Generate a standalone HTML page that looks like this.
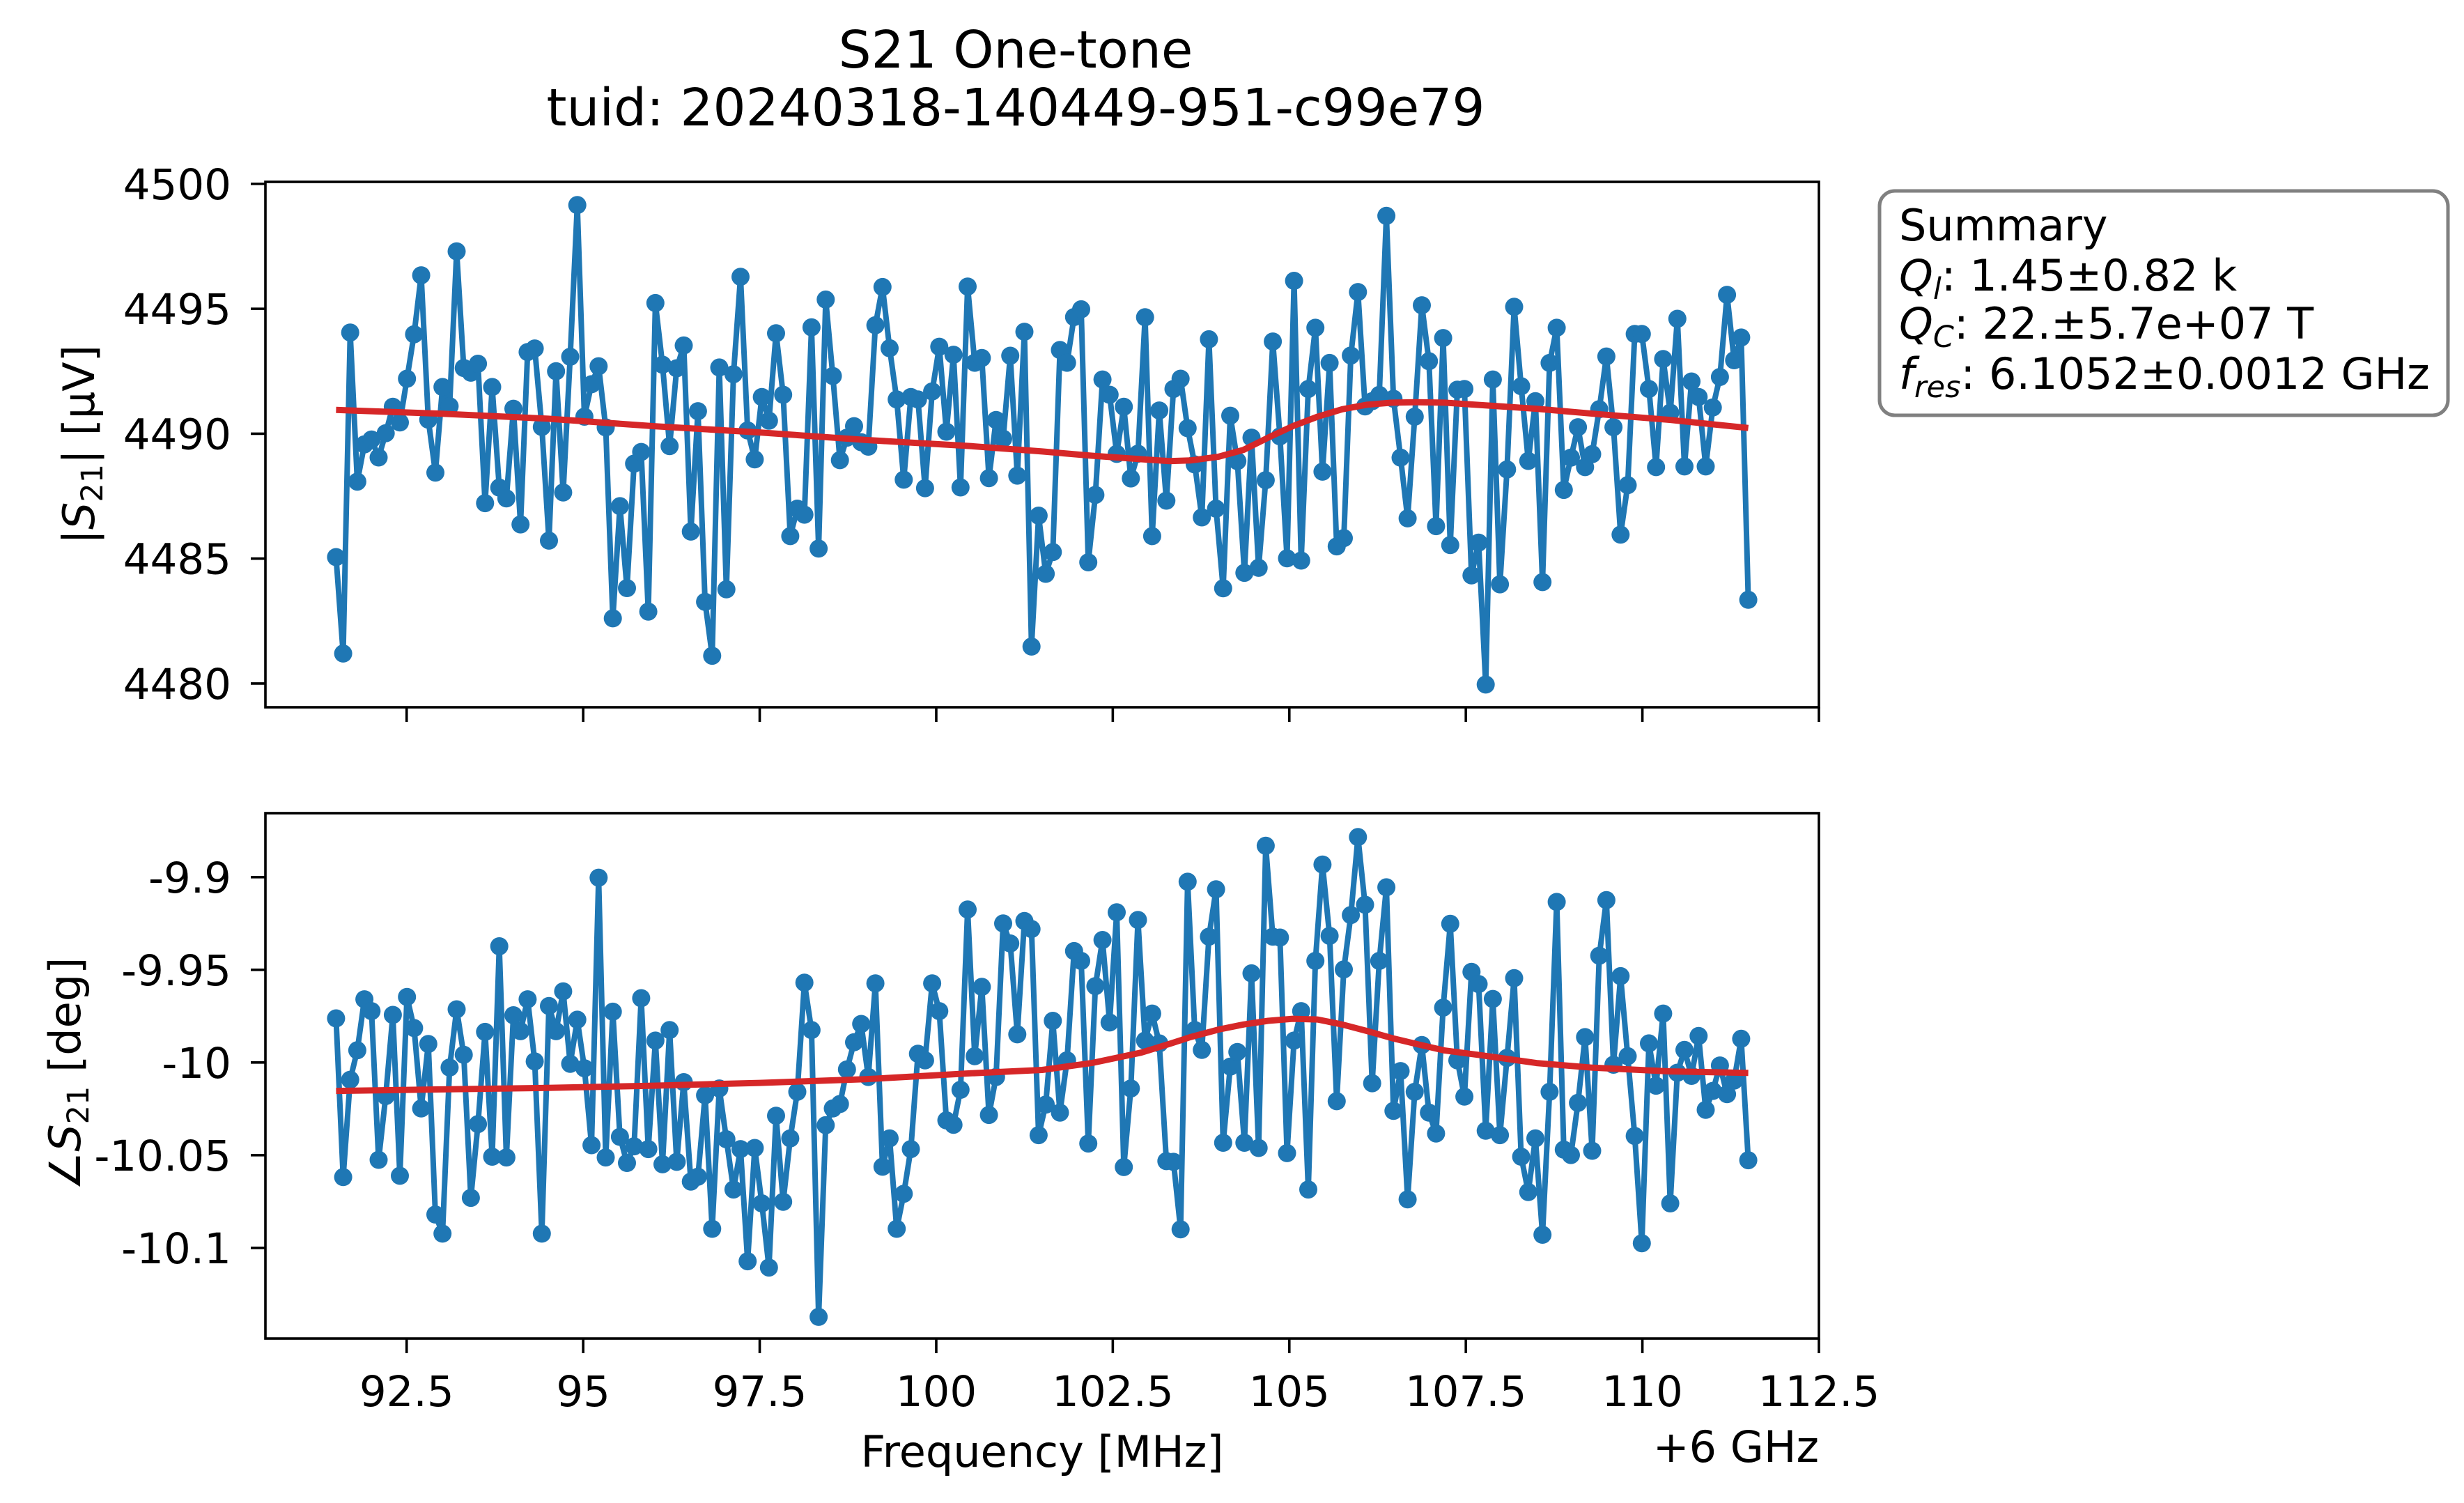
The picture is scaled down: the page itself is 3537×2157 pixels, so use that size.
<!DOCTYPE html>
<html><head><meta charset="utf-8"><style>
html,body{margin:0;padding:0;background:#fff;}
svg{display:block;}
text{font-family:"DejaVu Sans","Liberation Sans",sans-serif;fill:#000;}
</style></head><body>
<svg id="fig" width="3537" height="2157" viewBox="0 0 3537 2157" xmlns="http://www.w3.org/2000/svg">
<rect width="3537" height="2157" fill="#fff"/>
<text x="1458" y="97" font-size="74" text-anchor="middle">S21 One-tone</text>
<text x="1458" y="180" font-size="74" text-anchor="middle">tuid: 20240318-140449-951-c99e79</text>
<g id="top"></g>
<g id="bot"></g>
<text transform="translate(135,638) rotate(-90)" font-size="62" text-anchor="middle">|<tspan font-style="italic">S</tspan><tspan font-size="43" dy="12">21</tspan><tspan dy="-12">| [µV]</tspan></text>
<text transform="translate(115,1541) rotate(-90)" font-size="62" text-anchor="middle">∠<tspan font-style="italic">S</tspan><tspan font-size="43" dy="12">21</tspan><tspan dy="-12"> [deg]</tspan></text>
<text x="1496" y="2105" font-size="62" text-anchor="middle">Frequency [MHz]</text>
<text x="2611" y="2098" font-size="62" text-anchor="end">+6 GHz</text>
<g>
<rect x="2698" y="274" width="816" height="322" rx="22" ry="22" fill="#fff" stroke="#808080" stroke-width="5"/>
<text x="2726" y="345" font-size="62">Summary</text>
<text x="2726" y="417" font-size="62"><tspan font-style="italic">Q</tspan><tspan font-style="italic" font-size="43" dy="12">l</tspan><tspan dy="-12">: 1.45±0.82 k</tspan></text>
<text x="2726" y="486" font-size="62"><tspan font-style="italic">Q</tspan><tspan font-style="italic" font-size="43" dy="12">C</tspan><tspan dy="-12">: 22.±5.7e+07 T</tspan></text>
<text x="2726" y="558" font-size="62"><tspan font-style="italic">f</tspan><tspan font-style="italic" font-size="43" dy="12">res</tspan><tspan dy="-12">: 6.1052±0.0012 GHz</tspan></text>
</g>
</svg>
<script>
const freqStart = 91.5;
const freqStop = 111.5;
const magValues = [4485.06,4481.2,4494.05,4488.08,4489.57,4489.77,4489.05,4490.02,4491.08,4490.45,4492.2,4493.98,4496.34,4490.56,4488.44,4491.87,4491.1,4497.3,4492.63,4492.44,4492.8,4487.22,4491.87,4487.84,4487.41,4491.0,4486.37,4493.27,4493.41,4490.27,4485.72,4492.5,4487.65,4493.08,4499.15,4490.68,4491.98,4492.7,4490.25,4482.61,4487.1,4483.82,4488.8,4489.27,4482.88,4495.23,
4492.76,4489.5,4492.62,4493.53,4486.08,4490.9,4483.27,4481.11,4492.65,4483.77,4492.38,4496.28,4490.13,4488.97,4491.47,4490.52,4494.02,4491.56,4485.9,4487.0,4486.76,4494.26,4485.4,4495.37,4492.31,4488.94,4489.84,4490.3,4489.66,4489.48,4494.34,4495.87,4493.42,4491.37,4488.16,4491.47,4491.37,4487.82,4491.69,4493.48,4490.08,4493.16,4487.85,4495.89,4492.84,4493.03,4488.22,4490.55,4489.8,4493.12,4488.32,4494.08,4481.48,4486.72,4484.39,
4485.26,4493.35,4492.84,4494.67,4494.98,4484.85,4487.55,4492.17,4491.56,4489.19,4491.08,4488.21,4489.2,4494.66,4485.9,4490.93,4487.32,4491.79,4492.2,4490.22,4488.77,4486.65,4493.78,4487.0,4483.81,4490.72,4488.9,4484.43,4489.84,4484.63,4488.14,4493.69,4489.89,4485.01,4496.12,4484.92,4491.79,4494.24,4488.48,4492.83,4485.49,4485.82,4493.13,4495.67,4491.09,4491.3,4491.55,4498.72,4491.4,4489.04,4486.61,4490.68,4495.14,4492.9,4486.3,
4493.83,4485.54,4491.76,4491.79,4484.33,4485.64,4479.96,4492.17,4483.97,4488.57,4495.08,4491.9,4488.91,4491.3,4484.06,4492.83,4494.24,4487.75,4489.04,4490.26,4488.66,4489.18,4490.98,4493.09,4490.26,4485.96,4487.94,4493.99,4493.99,4491.79,4488.66,4492.99,4490.84,4494.6,4488.69,4492.09,4491.47,4488.69,4491.05,4492.27,4495.56,4492.94,4493.85,4483.35];
const phaseValues = [-9.9762,-10.0618,-10.0093,-9.9934,-9.9659,-9.9723,-10.0525,-10.0181,-9.9743,-10.0611,-9.9646,-9.9814,-10.0248,-9.99,-10.082,-10.0923,-10.0027,-9.9713,-9.9958,-10.073,-10.0332,-9.9835,-10.0508,-9.9373,-10.0512,-9.9745,-9.9831,-9.9659,-9.9994,-10.0923,-9.9695,-9.9831,-9.9616,-10.0007,-9.9769,-10.0031,-10.0446,-9.9003,-10.0512,-9.9726,-10.0401,-10.0542,-10.0452,-9.9653,-10.0467,-9.9882,
-10.0549,-9.9825,-10.0536,-10.0106,-10.0642,-10.0616,-10.0177,-10.0897,-10.014,-10.0414,-10.0685,-10.0467,-10.1072,-10.0461,-10.076,-10.1106,-10.0287,-10.0751,-10.0409,-10.0158,-9.9569,-9.9825,-10.1372,-10.0338,-10.0248,-10.0224,-10.0037,-9.9891,-9.9792,-10.0078,-9.9573,-10.0562,-10.0409,-10.0897,-10.0708,-10.0467,-9.9953,-9.9988,-9.9573,-9.9723,-10.0312,-10.0336,-10.0147,-9.9175,-9.9966,-9.9592,-10.0283,-10.0078,-9.925,-9.9358,-9.9848,-9.9237,-9.928,-10.0392,-10.0227,
-9.9775,-10.027,-9.9988,-9.9399,-9.9452,-10.0437,-9.9588,-9.9339,-9.9784,-9.919,-10.0564,-10.014,-9.9231,-9.9882,-9.9736,-9.9897,-10.0532,-10.0536,-10.09,-9.9025,-9.9825,-9.9932,-9.9321,-9.9066,-10.0433,-10.0022,-9.9943,-10.0433,-9.9519,-10.0461,-9.8831,-9.9321,-9.9326,-10.0489,-9.9882,-9.9723,-10.0685,-9.9452,-9.8932,-9.9317,-10.0209,-9.9498,-9.9205,-9.8784,-9.9149,-10.0112,-9.9452,-9.9055,-10.0261,-10.0046,-10.0738,-10.0158,-9.9906,-10.027,-10.0383,
-9.9704,-9.9252,-9.9988,-10.0184,-9.9511,-9.9577,-10.0368,-9.9657,-10.0392,-9.9975,-9.9545,-10.0508,-10.0699,-10.0409,-10.0929,-10.0158,-9.9134,-10.047,-10.0499,-10.0218,-9.9863,-10.0476,-9.9424,-9.9124,-10.0012,-9.9534,-9.9966,-10.0396,-10.0975,-9.9897,-10.0125,-9.9736,-10.076,-10.0055,-9.9932,-10.0072,-9.9857,-10.0255,-10.0153,-10.0016,-10.0171,-10.0097,-9.9872,-10.0527];
const fitFreq = [91.5,93,94.5,96,97.5,99,100.5,101.5,102.2,102.9,103.3,103.6,104.0,104.35,104.7,105.05,105.4,105.75,106.1,106.45,106.8,107.2,107.7,108.5,109.3,110.4,111.5];
const fitMag = [4490.95,4490.8,4490.6,4490.3,4490.05,4489.75,4489.5,4489.29,4489.12,4488.98,4488.9,4488.93,4489.08,4489.35,4489.84,4490.3,4490.68,4490.98,4491.16,4491.24,4491.26,4491.24,4491.15,4491.0,4490.8,4490.55,4490.23];
const fitPhase = [-10.0153,-10.0145,-10.0137,-10.0125,-10.011,-10.009,-10.0058,-10.004,-10.0003,-9.9947,-9.990,-9.9863,-9.9822,-9.9795,-9.9775,-9.9764,-9.9768,-9.9795,-9.983,-9.9868,-9.990,-9.9935,-9.996,-10.0003,-10.0028,-10.0048,-10.0056];
const xTicks = [92.5,95,97.5,100,102.5,105,107.5,110,112.5];
const xTickLabels = ["92.5","95","97.5","100","102.5","105","107.5","110","112.5"];
const magTicks = [4480,4485,4490,4495,4500];
const magTickLabels = ["4480","4485","4490","4495","4500"];
const phaseTicks = [-10.1,-10.05,-10,-9.95,-9.9];
const phaseTickLabels = ["-10.1","-10.05","-10","-9.95","-9.9"];

const NS = "http://www.w3.org/2000/svg";
const L = 381, R = 2611, XMIN = 90.5, XMAX = 112.5;
function xs(f){ return L + (f - XMIN) / (XMAX - XMIN) * (R - L); }
function mk(tag, attrs, parent){ const e = document.createElementNS(NS, tag); for (const k in attrs) e.setAttribute(k, attrs[k]); parent.appendChild(e); return e; }

function drawAxes(g, top, bottom, ymin, ymax, values, fitVals, yTicks, yLabels, showXLabels, prefix){
  const ys = v => bottom - (v - ymin) / (ymax - ymin) * (bottom - top);
  const n = values.length;
  const freqs = values.map((_, i) => freqStart + i * (freqStop - freqStart) / (n - 1));
  let d = "";
  values.forEach((v, i) => { d += (i ? "L" : "M") + xs(freqs[i]).toFixed(1) + "," + ys(v).toFixed(1); });
  const line = mk("path", {d: d, fill: "none", stroke: "#1f77b4", "stroke-width": 8, "stroke-linejoin": "round"}, g);
  
  
  const pts = mk("g", {fill: "#1f77b4"}, g);
  
  
  values.forEach((v, i) => {
    const c = mk("circle", {cx: xs(freqs[i]).toFixed(1), cy: ys(v).toFixed(1), r: 13}, pts);
    
    
  });
  let fd = "";
  fitFreq.forEach((f, i) => { fd += (i ? "L" : "M") + xs(f).toFixed(1) + "," + ys(fitVals[i]).toFixed(1); });
  const fit = mk("path", {d: fd, fill: "none", stroke: "#d62728", "stroke-width": 9, "stroke-linejoin": "round"}, g);
  
  
  const frame = mk("rect", {x: L, y: top, width: R - L, height: bottom - top, fill: "none", stroke: "#000", "stroke-width": 3.6}, g);
  
  
  yTicks.forEach((t, i) => {
    const y = ys(t);
    const tk = mk("line", {x1: L, x2: L - 21, y1: y, y2: y, stroke: "#000", "stroke-width": 3.6}, g);
    
    
    const tx = mk("text", {x: 332, y: y + 22, "font-size": 61, "text-anchor": "end"}, g);
    tx.textContent = yLabels[i];
    
    
  });
  xTicks.forEach((t, i) => {
    const x = xs(t);
    const tk = mk("line", {x1: x, x2: x, y1: bottom, y2: bottom + 21, stroke: "#000", "stroke-width": 3.6}, g);
    
    
    if (showXLabels){
      const tx = mk("text", {x: x, y: 2018, "font-size": 61, "text-anchor": "middle"}, g);
      tx.textContent = xTickLabels[i];
      
      
    }
  });
}
drawAxes(document.getElementById("top"), 261, 1015, 4479.05, 4500.08, magValues, fitMag, magTicks, magTickLabels, false, "magnitude");
drawAxes(document.getElementById("bot"), 1167, 1921, -10.1489, -9.8655, phaseValues, fitPhase, phaseTicks, phaseTickLabels, true, "phase");
</script>
</body></html>
